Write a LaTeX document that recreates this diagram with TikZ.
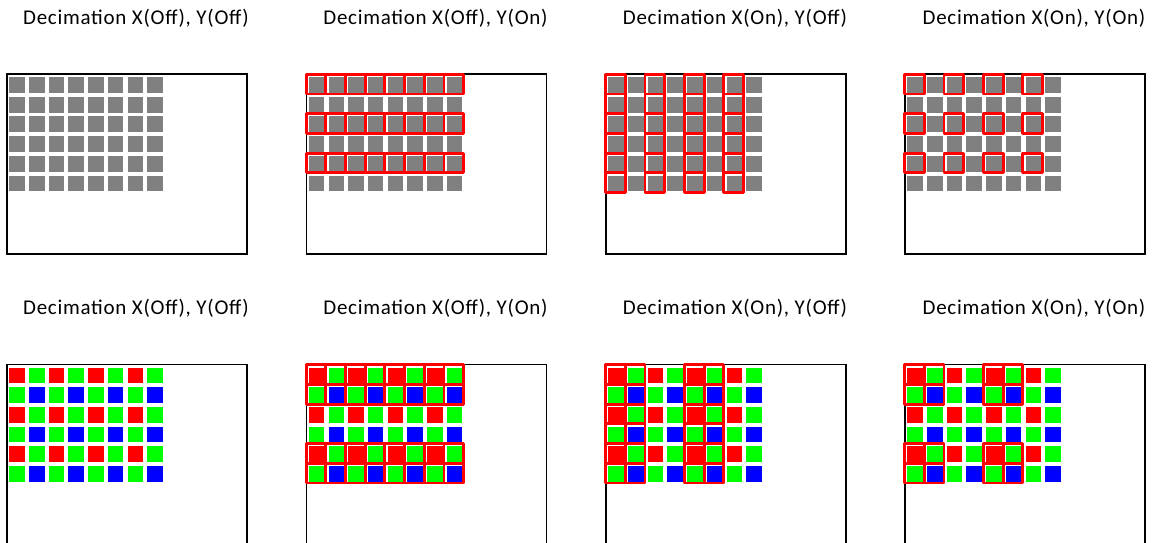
\documentclass[tikz,border=0pt]{standalone}
\usepackage{fontspec}
\setmainfont{Carlito}
\newfontfamily\ttlfont[LetterSpace=3.5]{Carlito}
\definecolor{pixgray}{HTML}{808080}
\definecolor{bay0}{HTML}{FF0000}
\definecolor{bay1}{HTML}{00FF00}
\definecolor{bay2}{HTML}{00FF00}
\definecolor{bay3}{HTML}{0000FF}
\definecolor{selred}{HTML}{FF0000}
\tikzset{
  frame/.style={draw=black,line width=1.4pt},
  selbox/.style={draw=selred,line width=2.9pt,line join=round},
  ttl/.style={font=\ttlfont\fontsize{21}{24}\selectfont,anchor=base,inner sep=0pt}
}
\newcommand\pixsq[5]{\fill[#5] ({#1+2.3+19.7*#3},{#2+3+19.7*#4}) rectangle +(15.5,15.8);}
\newcommand\selcell[4]{\draw[selbox] ({#1+2.3+19.7*#3-2.7},{#2+3+19.7*#4-2.7}) rectangle +(19.7,19.7);}
\begin{document}
\begin{tikzpicture}[x=1pt,y=-1pt]
\useasboundingbox (0,0) rectangle (1157,542);
\clip (0,0) rectangle (1157,542);
% titles
\foreach \px/\txt [count=\k] in {7/{Decimation X(Off), Y(Off)},306.5/{Decimation X(Off), Y(On)},606/{Decimation X(On), Y(Off)},905/{Decimation X(On), Y(On)}}{
  \node[ttl] (ttop\k) at (\px+129,24) {\txt};
  \node[ttl] (tbot\k) at (\px+129,314) {\txt};
}
% frames
\foreach \px [count=\k] in {7,306.5,606,905}{
  \draw[frame] (\px,74) rectangle +(240,180);
  \draw[frame] (\px,364.5) rectangle +(240,180);
}
% top row pixels (gray)
\foreach \px in {7,306.5,606,905}{
  \foreach \i in {0,...,7}{
    \foreach \j in {0,...,5}{
      \pixsq{\px}{74}{\i}{\j}{pixgray}
    }
  }
}
% bottom row pixels (Bayer)
\foreach \px in {7,306.5,606,905}{
  \foreach \i in {0,...,7}{
    \foreach \j in {0,...,5}{
      \pgfmathtruncatemacro\n{mod(\i,2)+2*mod(\j,2)}
      \pixsq{\px}{364.5}{\i}{\j}{bay\n}
    }
  }
}
% top row selections
\foreach \j in {0,2,4}{\foreach \i in {0,...,7}{\selcell{306.5}{74}{\i}{\j}}}
\foreach \i in {0,2,4,6}{\foreach \j in {0,...,5}{\selcell{606}{74}{\i}{\j}}}
\foreach \i in {0,2,4,6}{\foreach \j in {0,2,4}{\selcell{905}{74}{\i}{\j}}}
% bottom row selections
\foreach \j in {0,1,4,5}{\foreach \i in {0,...,7}{\selcell{306.5}{364.5}{\i}{\j}}}
\foreach \i in {0,1,4,5}{\foreach \j in {0,...,5}{\selcell{606}{364.5}{\i}{\j}}}
\foreach \i in {0,1,4,5}{\foreach \j in {0,1,4,5}{\selcell{905}{364.5}{\i}{\j}}}
\end{tikzpicture}
\end{document}
